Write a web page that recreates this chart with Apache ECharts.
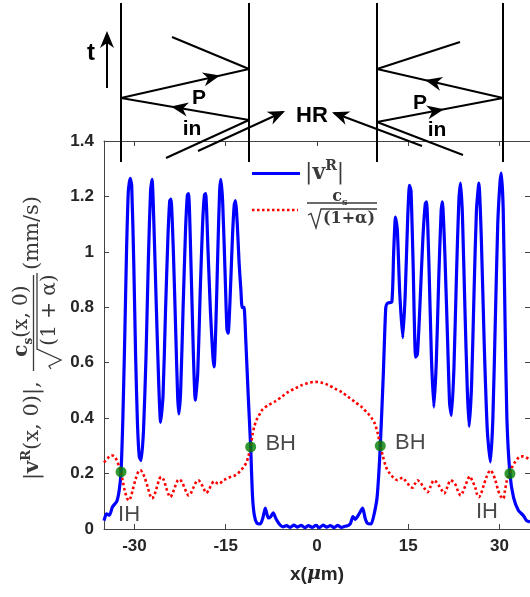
<!DOCTYPE html>
<html>
<head>
<meta charset="utf-8">
<script src="https://cdn.jsdelivr.net/npm/echarts@6/dist/echarts.min.js"></script>
<style>
html, body { margin: 0; padding: 0; background: #fff; }
#chart { width: 530px; height: 597px; }
</style>
</head>
<body>
<div id="chart"></div>
<script>
// x positions of the labelled ticks (micrometres)
const xTicks = [-30, -15, 0, 15, 30];

// |v^R(x,0)| in mm/s
const vR = [
  [-35.0,0.03],[-34.6,0.055],[-34.1,0.05],[-33.6,0.08],[-32.9,0.10],[-32.5,0.14],[-32.2,0.206],
  [-31.9,0.40],[-31.6,0.68],[-31.3,1.0],[-31.0,1.22],[-30.7,1.265],[-30.45,1.24],[-30.1,0.95],
  [-29.8,0.62],[-29.5,0.38],[-29.2,0.26],[-28.9,0.247],[-28.5,0.36],[-28.1,0.62],[-27.7,0.98],
  [-27.35,1.22],[-27.1,1.262],[-26.8,1.10],[-26.4,0.80],[-26.0,0.52],[-25.7,0.385],[-25.3,0.48],
  [-24.9,0.78],[-24.5,1.05],[-24.2,1.185],[-24.0,1.19],[-23.6,1.0],[-23.2,0.70],[-22.9,0.48],
  [-22.7,0.415],[-22.4,0.50],[-22.0,0.80],[-21.6,1.08],[-21.3,1.205],[-21.1,1.21],[-20.7,0.95],
  [-20.3,0.62],[-20.0,0.465],[-19.6,0.56],[-19.2,0.85],[-18.8,1.10],[-18.5,1.205],[-18.3,1.21],
  [-17.9,1.0],[-17.5,0.78],[-17.1,0.62],[-16.9,0.585],[-16.6,0.75],[-16.3,1.0],[-16.0,1.22],
  [-15.8,1.262],[-15.5,1.18],[-15.1,0.92],[-14.8,0.72],[-14.6,0.706],[-14.3,0.82],[-13.9,1.05],
  [-13.6,1.17],[-13.4,1.185],[-13.1,1.10],[-12.8,0.96],[-12.5,0.86],[-12.3,0.80],[-12.0,0.80],
  [-11.7,0.68],[-11.3,0.48],[-10.9,0.296],[-10.6,0.12],[-10.3,0.05],[-9.85,0.02],[-9.3,0.018],
  [-8.9,0.04],[-8.5,0.075],[-8.0,0.04],[-7.6,0.045],[-7.2,0.058],[-6.7,0.035],[-6.2,0.018],
  [-5.6,0.008],[-5.0,0.012],[-4.4,0.006],[-3.8,0.014],[-3.2,0.007],[-2.6,0.013],[-2.0,0.005],
  [-1.4,0.012],[-0.8,0.006],[-0.2,0.013],[0.4,0.005],[1.0,0.014],[1.6,0.007],[2.2,0.012],
  [2.8,0.005],[3.4,0.013],[4.0,0.006],[4.6,0.01],[5.1,0.012],[5.5,0.02],[5.9,0.045],[6.3,0.035],
  [6.8,0.05],[7.5,0.075],[7.9,0.04],[8.3,0.02],[8.9,0.018],[9.45,0.06],[9.9,0.12],[10.4,0.30],
  [10.9,0.56],[11.3,0.80],[11.6,0.815],[12.3,0.82],[12.6,1.0],[12.9,1.125],[13.2,1.08],[13.6,0.85],
  [14.1,0.69],[14.5,0.85],[14.9,1.12],[15.2,1.24],[15.45,1.22],[15.8,0.95],[16.2,0.62],[16.5,0.63],
  [16.9,0.80],[17.4,1.05],[17.8,1.175],[18.0,1.18],[18.4,0.95],[18.8,0.62],[19.2,0.44],[19.6,0.60],
  [20.0,0.90],[20.4,1.15],[20.6,1.18],[21.0,1.0],[21.5,0.65],[21.8,0.45],[22.1,0.41],[22.5,0.58],
  [22.9,0.90],[23.3,1.18],[23.6,1.248],[23.9,1.13],[24.3,0.80],[24.7,0.50],[25.0,0.37],[25.4,0.52],
  [25.8,0.85],[26.2,1.15],[26.6,1.248],[27.0,1.05],[27.5,0.65],[28.0,0.35],[28.5,0.242],[28.9,0.40],
  [29.3,0.75],[29.7,1.10],[30.1,1.26],[30.3,1.284],[30.6,1.15],[30.9,0.75],[31.2,0.40],[31.7,0.20],
  [32.3,0.113],[33.1,0.067],[33.9,0.049],[34.4,0.031],[35.0,0.025]
];

// c_s / sqrt(1+alpha) in mm/s
const cs = [
  [-35.0,0.24],[-34.4,0.255],[-33.8,0.266],[-33.3,0.262],[-32.9,0.248],[-32.5,0.225],[-32.2,0.206],
  [-31.9,0.17],[-31.6,0.14],[-31.2,0.11],[-30.9,0.103],[-30.6,0.115],[-30.3,0.14],[-29.8,0.18],
  [-29.3,0.21],[-29.0,0.212],[-28.6,0.2],[-28.3,0.185],[-27.8,0.15],[-27.4,0.12],[-27.1,0.11],
  [-26.7,0.125],[-26.4,0.145],[-25.9,0.18],[-25.6,0.188],[-25.2,0.178],[-24.8,0.15],[-24.4,0.125],
  [-24.1,0.115],[-23.7,0.13],[-23.4,0.148],[-22.9,0.175],[-22.6,0.179],[-22.2,0.17],[-21.8,0.15],
  [-21.4,0.13],[-21.1,0.121],[-20.7,0.13],[-20.3,0.15],[-19.8,0.172],[-19.5,0.176],[-19.0,0.162],
  [-18.6,0.145],[-18.2,0.13],[-17.8,0.14],[-17.4,0.158],[-16.9,0.172],[-16.4,0.165],[-16.0,0.163],
  [-15.5,0.175],[-15.0,0.18],[-14.5,0.185],[-14.0,0.19],[-13.5,0.193],[-13.0,0.2],[-12.5,0.212],
  [-12.0,0.225],[-11.6,0.24],[-11.3,0.26],[-10.9,0.296],[-10.6,0.34],[-10.3,0.37],[-9.9,0.395],
  [-9.4,0.415],[-9.0,0.43],[-8.0,0.447],[-6.9,0.46],[-5.8,0.477],[-4.7,0.495],[-3.6,0.507],
  [-2.5,0.519],[-1.4,0.527],[-0.3,0.531],[0.8,0.528],[1.9,0.519],[2.9,0.507],[4.0,0.495],
  [5.1,0.477],[6.2,0.459],[7.3,0.441],[8.4,0.416],[9.0,0.40],[9.5,0.38],[10.0,0.344],[10.4,0.30],
  [10.8,0.265],[11.3,0.226],[11.8,0.205],[12.2,0.194],[12.7,0.182],[13.25,0.176],[13.7,0.182],
  [14.1,0.185],[14.5,0.175],[14.9,0.164],[15.3,0.153],[15.7,0.149],[16.1,0.163],[16.5,0.176],
  [16.9,0.17],[17.3,0.158],[17.7,0.145],[18.15,0.133],[18.7,0.155],[19.2,0.176],[19.6,0.17],
  [20.0,0.158],[20.5,0.14],[20.9,0.128],[21.4,0.15],[21.95,0.176],[22.4,0.17],[22.8,0.158],
  [23.2,0.135],[23.6,0.121],[24.0,0.135],[24.4,0.158],[24.8,0.18],[25.1,0.19],[25.6,0.17],
  [26.0,0.15],[26.3,0.125],[26.6,0.115],[27.0,0.13],[27.4,0.158],[27.9,0.19],[28.5,0.212],
  [28.9,0.2],[29.3,0.176],[29.7,0.145],[30.1,0.121],[30.6,0.109],[30.9,0.14],[31.2,0.175],
  [31.7,0.2],[32.1,0.225],[32.55,0.242],[33.0,0.255],[33.4,0.262],[33.9,0.262],[34.4,0.258],
  [35.0,0.25]
];

// horizon crossings: inner (IH) and black-hole (BH) horizons
const horizonX = [-32.2, -10.9, 10.4, 31.7];
const horizonY = [0.206, 0.296, 0.300, 0.200];
const horizonNames = ['IH', 'BH', 'BH', 'IH'];

const INK = '#262626';
const AXIS = '#444444';
const SERIF = 'DejaVu Serif';
const SANS = 'Liberation Sans';

// label offsets for each horizon marker
const horizonLabelOffset = [[8, 43], [30, -3], [30, -3], [-23, 38]];

const horizonData = horizonX.map((x, i) => ({
  value: [x, horizonY[i]],
  name: horizonNames[i],
  label: { offset: horizonLabelOffset[i] }
}));

// notched arrow head as polygon points
function arrowHead(tx, ty, ang, L, W, notch) {
  const c = Math.cos(ang), s = Math.sin(ang);
  const bx = tx - L * c, by = ty - L * s;
  const nx = tx - (L - notch) * c, ny = ty - (L - notch) * s;
  return [[tx, ty], [bx - W * s, by + W * c], [nx, ny], [bx + W * s, by - W * c]];
}
function seg(x1, y1, x2, y2, w) {
  return { type: 'line', shape: { x1, y1, x2, y2 }, style: { stroke: '#000', lineWidth: w || 2 }, z: 100 };
}
function head(tx, ty, fromX, fromY, L, W) {
  const ang = Math.atan2(ty - fromY, tx - fromX);
  return { type: 'polygon', shape: { points: arrowHead(tx, ty, ang, L || 17, W || 7, 5) },
           style: { fill: '#000' }, z: 100 };
}
function word(text, x, y, size) {
  return { type: 'text', x, y, z: 100,
    style: { text, fill: '#000', font: 'bold ' + (size || 21) + 'px "' + SANS + '"', align: 'center', verticalAlign: 'middle' } };
}

// schematic of the characteristics above the plot
const sketch = [
  seg(121, 3, 121, 162), seg(249, 3, 249, 162), seg(377, 3, 377, 162), seg(503, 3, 503, 162),
  seg(107, 88, 107, 42), head(107, 31, 107, 88, 17, 7),
  word('t', 91, 53, 24),
  // left cavity
  seg(172, 37, 249, 69), seg(249, 69, 121, 98), head(220, 75.6, 121, 98),
  seg(121, 98, 249, 120), head(171, 106.6, 249, 120),
  seg(166, 158, 249, 120), seg(198, 151, 283, 112), head(285, 111, 198, 151),
  word('P', 199, 98, 21), word('in', 192, 129, 21),
  word('HR', 312, 116, 22),
  // right cavity
  seg(460, 42, 377, 69), seg(377, 69, 503, 98), head(425, 80.0, 503, 98),
  seg(503, 98, 377, 122), head(444, 109.2, 377, 122),
  seg(463, 155, 377, 122), seg(422, 146, 334, 113), head(332, 112.2, 422, 146),
  word('P', 420, 103, 21), word('in', 437, 130, 21)
];

// rich styles for the math text
function mathRich(size, color) {
  return {
    bar: { fontFamily: SERIF, fontSize: size, fill: color, lineHeight: size + 5 },
    n: { fontFamily: SERIF, fontSize: size, fill: color, lineHeight: size + 5 },
    v: { fontFamily: SERIF, fontWeight: 'bold', fontSize: size, fill: color, lineHeight: size + 5 },
    c: { fontFamily: SERIF, fontWeight: 'bold', fontSize: size, fill: color, lineHeight: size + 5 },
    sup: { fontFamily: SERIF, fontWeight: 'bold', fontSize: Math.round(size * 0.62), fill: color,
           lineHeight: Math.round(size * 0.7), verticalAlign: 'top' },
    sub: { fontFamily: SERIF, fontWeight: 'bold', fontSize: Math.round(size * 0.62), fill: color,
           lineHeight: Math.round(size * 0.7), verticalAlign: 'bottom' }
  };
}

const LBL = '#3a3a3a';
// y-axis title, written horizontally then turned to read bottom-to-top
const yTitle = {
  type: 'group', x: 0, y: 597, rotation: Math.PI / 2, z: 50,
  children: [
    { type: 'text', x: 117, y: 33,
      style: { text: '{bar||}{v|v}{sup|R}{n|(x, 0)}{bar||}{n|,}', rich: mathRich(21, LBL),
               align: 'left', verticalAlign: 'middle' } },
    { type: 'text', x: 276, y: 22,
      style: { text: '{c|c}{sub|s}{n|(x, 0)}', rich: mathRich(20, LBL), align: 'center', verticalAlign: 'middle' } },
    { type: 'line', shape: { x1: 226, y1: 33.5, x2: 322, y2: 33.5 }, style: { stroke: LBL, lineWidth: 1.3 } },
    { type: 'polyline', shape: { points: [[228, 51], [231, 49], [237, 61], [248, 37], [324, 37]] },
      style: { stroke: LBL, lineWidth: 1.3, fill: null } },
    { type: 'text', x: 287, y: 50,
      style: { text: '(1 + α)', font: '20px "' + SERIF + '"', fill: LBL, align: 'center', verticalAlign: 'middle' } },
    { type: 'text', x: 327, y: 33,
      style: { text: '(mm/s)', font: '21px "' + SERIF + '"', fill: LBL, align: 'left', verticalAlign: 'middle' } }
  ]
};

// legend entries
const legendGroup = [
  { type: 'line', shape: { x1: 252, y1: 173.5, x2: 300, y2: 173.5 }, style: { stroke: '#0000ff', lineWidth: 3 }, z: 60 },
  { type: 'line', shape: { x1: 252, y1: 210, x2: 298, y2: 210 },
    style: { stroke: '#ff0000', lineWidth: 2.5, lineDash: [2.5, 2.5] }, z: 60 },
  { type: 'text', x: 305, y: 173, z: 60,
    style: { text: '{bar||}{v|v}{sup|R}{bar||}', rich: mathRich(22, LBL), align: 'left', verticalAlign: 'middle' } },
  { type: 'text', x: 340, y: 197, z: 60,
    style: { text: '{c|c}{sub|s}', rich: mathRich(16, LBL), align: 'center', verticalAlign: 'middle' } },
  { type: 'line', shape: { x1: 307, y1: 203, x2: 377, y2: 203 }, style: { stroke: LBL, lineWidth: 1.3 }, z: 60 },
  { type: 'polyline', shape: { points: [[308, 215], [311, 213.5], [316, 228], [321, 209], [377, 209]] },
    style: { stroke: LBL, lineWidth: 1.3, fill: null }, z: 60 },
  { type: 'text', x: 349, y: 219, z: 60,
    style: { text: '(1+α)', font: 'bold 16px "' + SERIF + '"', fill: LBL, align: 'center', verticalAlign: 'middle' } }
];

const tickLabel = { color: INK, fontWeight: 'bold', fontSize: 17, fontFamily: SANS };
const axisLine = { show: true, onZero: false, lineStyle: { color: AXIS, width: 1 } };
const tickStyle = { color: AXIS, width: 1 };

const chart = echarts.init(document.getElementById('chart'), null, { renderer: 'canvas' });
chart.setOption({
  animation: false,
  backgroundColor: '#fff',
  grid: { left: 104, top: 141, width: 429, height: 388, containLabel: false },
  xAxis: [
    { type: 'value', min: -35, max: 35, position: 'bottom',
      axisLine, splitLine: { show: false },
      axisTick: { show: true, inside: true, length: 5, customValues: xTicks, lineStyle: tickStyle },
      axisLabel: Object.assign({ margin: 9, customValues: xTicks }, tickLabel),
      name: '{a|x(}{mu|μ}{a|m)}', nameLocation: 'middle', nameGap: 36,
      nameTextStyle: { rich: {
        a: { fontFamily: SANS, fontWeight: 'bold', fontSize: 19, color: INK },
        mu: { fontFamily: SERIF, fontStyle: 'italic', fontWeight: 'bold', fontSize: 19, color: INK }
      } } },
    { type: 'value', min: -35, max: 35, position: 'top',
      axisLine, splitLine: { show: false },
      axisTick: { show: true, inside: true, length: 5, customValues: xTicks, lineStyle: tickStyle },
      axisLabel: { show: false } }
  ],
  yAxis: [
    { type: 'value', min: 0, max: 1.4, interval: 0.2, position: 'left',
      axisLine, splitLine: { show: false },
      axisTick: { show: true, inside: true, length: 5, lineStyle: tickStyle },
      axisLabel: Object.assign({ margin: 10 }, tickLabel) },
    { type: 'value', min: 0, max: 1.4, interval: 0.2, position: 'right',
      axisLine, splitLine: { show: false },
      axisTick: { show: true, inside: true, length: 5, lineStyle: tickStyle },
      axisLabel: { show: false } }
  ],
  series: [
    { name: '|vR|', type: 'line', data: vR, showSymbol: false, smooth: 0.2,
      lineStyle: { color: '#0000ff', width: 3.2 }, itemStyle: { color: '#0000ff' }, z: 2 },
    { name: 'cs/sqrt(1+alpha)', type: 'line', data: cs, showSymbol: false, smooth: 0.3,
      lineStyle: { color: '#ff0000', width: 2.6, type: [2.6, 2.6] }, itemStyle: { color: '#ff0000' }, z: 3 },
    { name: 'horizons', type: 'scatter', data: horizonData, symbolSize: 11,
      itemStyle: { color: '#008000' }, z: 4,
      label: { show: true, position: 'inside', formatter: '{b}', color: '#1a1a1a',
               textBorderWidth: 0, fontFamily: SANS, fontSize: 22, align: 'center', verticalAlign: 'middle' } }
  ],
  graphic: sketch.concat(legendGroup, [yTitle])
});
</script>
</body>
</html>
